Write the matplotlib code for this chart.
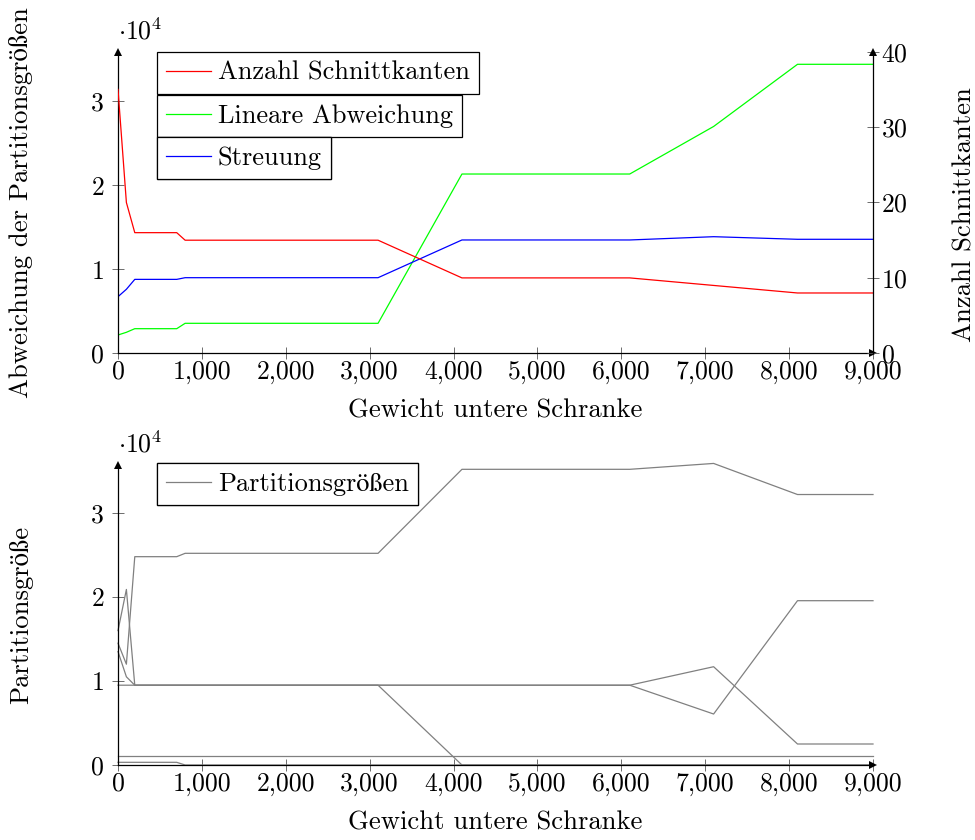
import numpy as np
import matplotlib
matplotlib.use("Agg")
import matplotlib.pyplot as plt
from matplotlib.ticker import FuncFormatter, FixedLocator

plt.rcParams["font.family"] = ["cmr10", "STIXGeneral"]
plt.rcParams["mathtext.fontset"] = "cm"
plt.rcParams["axes.unicode_minus"] = False
plt.rcParams["axes.formatter.use_mathtext"] = True

# Gewicht untere Schranke (x values)
gewicht = [0, 100, 200, 700, 800, 3100, 4100, 6100, 7100, 8100, 9000]

# top chart
schnittkanten = [35, 20, 16, 16, 15, 15, 10, 10, 9, 8, 8]
lineare_abw = [2180, 2500, 2930, 2930, 3570, 3570, 21340, 21340, 27000, 34400, 34400]
streuung = [6740, 7620, 8800, 8800, 9000, 9000, 13490, 13490, 13880, 13570, 13570]

# bottom chart: partition sizes
part_a = [14500, 12000, 24800, 24800, 25200, 25200, 35200, 35200, 35900, 32200, 32200]
part_b = [16000, 20900, 9500, 9500, 9500, 9500, 9500, 9500, 11700, 2500, 2500]
part_c = [13500, 10500, 9500, 9500, 9500, 9500, 9500, 9500, 6070, 19560, 19560]
part_d = [9500, 9500, 9500, 9500, 9500, 9500, 0, 0, 0, 0, 0]
part_e = [1100, 1100, 1100, 1100, 1100, 1100, 1100, 1100, 1100, 1100, 1100]
part_f = [320, 320, 320, 320, 0, 0, 0, 0, 0, 0, 0]
partitionen = [part_a, part_b, part_c, part_d, part_e, part_f]

xticks = [0, 1000, 2000, 3000, 4000, 5000, 6000, 7000, 8000, 9000]
FS = 18.5      # tick labels
FS_LAB = 19.2  # axis labels
FS_LEG = 19
W, H = 975, 840


def thousands(v, pos):
    return f"{int(v):,}"


def style_axis(ax, ymax, yticks):
    ax.set_xlim(0, 9000)
    ax.set_ylim(0, ymax)
    ax.spines["top"].set_visible(False)
    ax.spines["right"].set_visible(False)
    for s in ("left", "bottom"):
        ax.spines[s].set_linewidth(0.9)
    ax.xaxis.set_major_locator(FixedLocator(xticks))
    ax.xaxis.set_major_formatter(FuncFormatter(thousands))
    ax.yaxis.set_major_locator(FixedLocator(yticks))
    ax.yaxis.set_major_formatter(FuncFormatter(lambda v, p: f"{v / 1e4:g}"))
    ax.tick_params(axis="both", direction="inout", length=8, width=0.6,
                   color="#555555", labelsize=FS)
    ax.tick_params(axis="x", pad=1)
    ax.tick_params(axis="y", pad=6)
    ax.plot(1, 0, marker=">", color="k", ms=6, mew=0,
            transform=ax.transAxes, clip_on=False, zorder=5)
    ax.plot(0, 1, marker="^", color="k", ms=6, mew=0,
            transform=ax.transAxes, clip_on=False, zorder=5)
    ax.text(0.0, 1.025, r"$\cdot 10^4$", transform=ax.transAxes,
            fontsize=FS, ha="left", va="bottom")


def box_legend(ax, handle, label, top_px, left_px=157):
    leg = ax.legend([handle], [label], loc="upper left",
                    bbox_to_anchor=(left_px / W, 1 - top_px / H),
                    bbox_transform=ax.figure.transFigure,
                    fontsize=FS_LEG, frameon=True, fancybox=False,
                    edgecolor="black", framealpha=1, borderpad=0.35,
                    handlelength=1.7, handletextpad=0.25, borderaxespad=0)
    leg.get_frame().set_linewidth(0.9)
    ax.add_artist(leg)
    return leg


fig = plt.figure(figsize=(W / 100, H / 100), dpi=100)

# ---- top chart
ax1 = fig.add_axes([118 / W, 1 - 353.3 / H, 755 / W, 301.6 / H])
style_axis(ax1, 35900, [0, 10000, 20000, 30000])
l_green, = ax1.plot(gewicht, lineare_abw, color=(0, 1, 0), lw=0.9)
l_blue, = ax1.plot(gewicht, streuung, color=(0, 0, 1), lw=0.9)
ax1.set_xlabel("Gewicht untere Schranke", fontsize=FS_LAB, labelpad=11)
ax1.set_ylabel("Abweichung der Partitionsgrößen", fontsize=FS_LAB)
ax1.yaxis.set_label_coords(-(118 - 33) / 755, 0.5)

ax2 = ax1.twinx()
ax2.set_ylim(0, 40)
ax2.set_xlim(0, 9000)
for s in ("top", "left", "bottom"):
    ax2.spines[s].set_visible(False)
ax2.spines["right"].set_linewidth(0.9)
ax2.yaxis.set_major_locator(FixedLocator([0, 10, 20, 30, 40]))
ax2.tick_params(axis="y", direction="inout", length=8, width=0.6,
                color="#555555", labelsize=FS, pad=2)
ax2.plot(1, 1, marker="^", color="k", ms=6, mew=0,
         transform=ax2.transAxes, clip_on=False, zorder=5)
l_red, = ax2.plot(gewicht, schnittkanten, color=(1, 0, 0), lw=0.9)
ax2.set_ylabel("Anzahl Schnittkanten", fontsize=FS_LAB)
ax2.yaxis.set_label_coords(1 + (953 - 873) / 755, 0.46)

box_legend(ax2, l_red, "Anzahl Schnittkanten", 52)
box_legend(ax2, l_green, "Lineare Abweichung", 95)
box_legend(ax2, l_blue, "Streuung", 137)

# ---- bottom chart
ax3 = fig.add_axes([118 / W, 1 - 765 / H, 755 / W, 300 / H])
style_axis(ax3, 35714, [0, 10000, 20000, 30000])
handles = []
for p in partitionen:
    h, = ax3.plot(gewicht, p, color="#808080", lw=0.9, clip_on=False)
    handles.append(h)
ax3.set_xlabel("Gewicht untere Schranke", fontsize=FS_LAB, labelpad=11)
ax3.set_ylabel("Partitionsgröße", fontsize=FS_LAB)
ax3.yaxis.set_label_coords(-(118 - 33) / 755, 0.5)
box_legend(ax3, handles[0], "Partitionsgrößen", 463)

fig.savefig("out.png", dpi=100)
